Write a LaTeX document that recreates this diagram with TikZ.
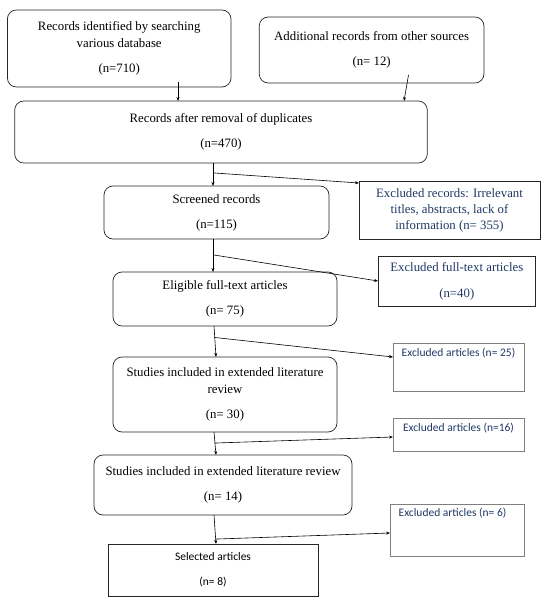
\documentclass[tikz,border=0pt]{standalone}
\usepackage{fontspec}
\setmainfont{Liberation Serif}
\newfontfamily\calfont{Carlito}
\usetikzlibrary{arrows.meta}
\definecolor{navy}{HTML}{1F3864}
\definecolor{edgegray}{HTML}{7F7F7F}
\tikzset{
  rbox/.style={draw=black!85, line width=0.7pt, rounded corners=9pt, align=center, inner sep=2pt, outer sep=0pt, font=\fontsize{12.8}{17}\selectfont},
  sbox/.style={draw=black!85, line width=0.7pt, align=center, inner sep=2pt, outer sep=0pt},
  exa/.style={sbox, text=navy, font=\fontsize{12.8}{16}\selectfont},
  exb/.style={draw=edgegray, line width=1pt, inner sep=0pt, outer sep=0pt},
  exlab/.style={text=navy, font=\calfont\fontsize{11.5}{13}\selectfont, inner sep=3pt, yshift=-2pt},
  arr/.style={line width=0.6pt, -{Stealth[length=4pt,width=3pt]}},
}
\begin{document}
\begin{tikzpicture}[x=1pt,y=-1pt]
\useasboundingbox (0,0) rectangle (549,602);
\node[rbox, minimum width=223.6pt, minimum height=77pt] (A) at (119.2,48.5) {Records identified by searching\\ various database\\[8pt] (n=710)};
\node[rbox, minimum width=224.7pt, minimum height=66pt] (B) at (371.6,50) {Additional records from other sources\\[8pt] (n= 12)};
\node[rbox, minimum width=412.6pt, minimum height=62pt] (C) at (221,132) {Records after removal of duplicates\\[8pt] (n=470)};
\node[rbox, minimum width=225pt, minimum height=53pt] (S) at (216.5,212.5) {Screened records\\[8pt] (n=115)};
\node[rbox, minimum width=224pt, minimum height=54pt] (El) at (225,299) {Eligible full-text articles\\[8pt] (n= 75)};
\node[rbox, minimum width=224pt, minimum height=75pt] (St1) at (225,394.5) {Studies included in extended literature\\ review\\[8pt] (n= 30)};
\node[rbox, minimum width=258pt, minimum height=60pt] (St2) at (223,485) {Studies included in extended literature review\\[8pt] (n= 14)};
\node[sbox, minimum width=210pt, minimum height=52pt, font=\calfont\fontsize{11.5}{13}\selectfont] (Sel) at (213,570) {Selected articles\\[12pt] (n= 8)};

\node[exa, minimum width=181pt, minimum height=58pt] (E1) at (449.5,210) {Excluded records: Irrelevant\\ titles, abstracts, lack of\\ information (n= 355)};
\node[exa, minimum width=157.5pt, minimum height=50pt] (E2) at (456.8,281) {Excluded full-text articles\\[10pt] (n=40)};
\node[exb, minimum width=131pt, minimum height=48pt, label={[exlab, anchor=north]north:Excluded articles (n= 25)}] (E3) at (458.5,367) {};
\node[exb, minimum width=131pt, minimum height=33pt, label={[exlab, anchor=north]north:Excluded articles (n=16)}] (E4) at (458.5,434.5) {};
\node[exb, minimum width=134pt, minimum height=52pt, label={[exlab, anchor=north, xshift=-4.5pt, yshift=1.5pt]north:Excluded articles (n= 6)}] (E5) at (457,530) {};

\draw[arr] ([xshift=58.8pt,yshift=5pt]A.south) -- ([xshift=-43pt]C.north);
\draw[arr] ([xshift=36.9pt,yshift=8pt]B.south) -- ([xshift=183pt]C.north);
\draw[arr] ([xshift=-8pt]C.south) -- coordinate[pos=0.43] (j1) ([xshift=-3.5pt]S.north);
\draw[arr] ([xshift=-3.5pt]S.south) -- coordinate[pos=0.48] (j2) ([xshift=-12pt]El.north);
\draw[arr] ([xshift=-11pt]El.south) -- coordinate[pos=0.37] (j3) ([xshift=-9pt]St1.north);
\draw[arr] ([xshift=-11pt]St1.south) -- coordinate[pos=0.48] (j4) ([xshift=-7pt]St2.north);
\draw[arr] ([xshift=-9pt]St2.south) -- coordinate[pos=0.83] (j5) ([xshift=3pt]Sel.north);

\draw[arr] (j1) -- ([yshift=27pt]E1.west);
\draw[arr] (j2) -- (E2.west);
\draw[arr] (j3) -- ([yshift=10pt]E3.west);
\draw[arr] (j4) -- ([yshift=-2.5pt]E4.west);
\draw[arr] (j5) -- ([yshift=-3pt]E5.west);
\end{tikzpicture}
\end{document}
